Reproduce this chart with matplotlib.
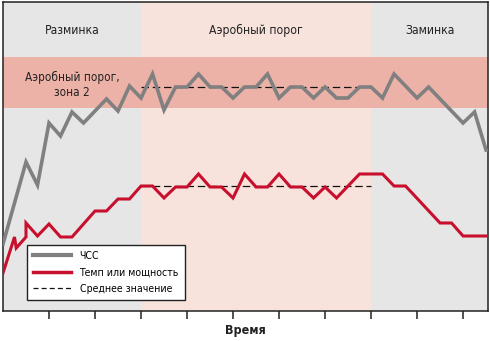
import matplotlib
matplotlib.use("Agg")
import matplotlib.pyplot as plt
from matplotlib.lines import Line2D

plt.rcParams['font.family'] = ['Liberation Sans Narrow', 'DejaVu Sans']
plt.rcParams['font.stretch'] = 'condensed'

# время в четвертях деления шкалы
hr_x = [0, 2, 3, 4, 5, 6, 7, 9, 10, 11, 12, 13, 14, 15, 16, 17, 18, 19, 20, 21, 22,
        23, 24, 25, 26, 27, 28, 29, 30, 31, 32, 33, 34, 36, 37, 40, 41, 42]
hr_y = [67, 149, 126, 188, 175, 199, 188, 212, 200, 225, 213, 237, 201, 224, 224, 237,
        224, 224, 213, 224, 224, 237, 213, 224, 224, 213, 224, 213, 213, 224, 224, 213,
        237, 213, 224, 188, 199, 161]

pace_x = [0, 1, 1.15, 2, 2, 3, 4, 5, 6, 8, 9, 10, 11, 12, 13, 14, 15, 16, 17, 18, 19,
          20, 21, 22, 23, 24, 25, 26, 27, 28, 29, 31, 33, 34, 35, 38, 39, 40, 42.2]
pace_y = [38, 74, 63, 74, 88, 75, 87, 74, 74, 100, 100, 112, 112, 125, 125, 113, 124,
          124, 137, 124, 124, 113, 137, 124, 124, 137, 124, 124, 113, 124, 113, 137, 137,
          125, 125, 88, 88, 75, 75]

hr_mean = 224
pace_mean = 125
phases = ["Разминка", "Аэробный порог", "Заминка"]
phase_bounds = [0, 12, 32, 42.17]
zone_low, zone_high = 203, 254

fig = plt.figure(figsize=(4.9, 3.41), dpi=100)
ax = fig.add_axes([3 / 490, 30 / 341, 485 / 490, 309 / 341])

phase_colors = ["#e6e6e6", "#f8e3dc", "#e6e6e6"]
for i, name in enumerate(phases):
    x0, x1 = phase_bounds[i], phase_bounds[i + 1]
    ax.axvspan(x0, x1, color=phase_colors[i], lw=0, zorder=0)
    ax.text((x0 + x1) / 2, 281, name, ha="center", va="center", fontsize=8.7, color="#222222")

ax.axhspan(zone_low, zone_high, color="#edb2a7", lw=0, zorder=1)
ax.text(6, 234, "Аэробный порог,", ha="center", va="center", fontsize=8.5, color="#222222")
ax.text(6, 219, "зона 2", ha="center", va="center", fontsize=8.5, color="#222222")

ax.plot([12, 32], [hr_mean, hr_mean], color="#111111", lw=0.9, ls=(0, (6, 3)), zorder=2)
ax.plot([12, 32], [pace_mean, pace_mean], color="#111111", lw=0.9, ls=(0, (6, 3)), zorder=2)
ax.plot(hr_x, hr_y, color="#808080", lw=2.6, zorder=3, solid_joinstyle="miter")
ax.plot(pace_x, pace_y, color="#c8102e", lw=2.2, zorder=3, solid_joinstyle="miter")

ax.set_xlim(0, 42.17)
ax.set_ylim(0, 309)
ax.set_xticks(range(4, 41, 4))
ax.set_xticklabels([])
ax.set_yticks([])
ax.tick_params(axis="x", direction="out", length=6, width=1.1, color="#222222")
for s in ax.spines.values():
    s.set_color("#222222")
    s.set_linewidth(1.1)
ax.set_xlabel("Время", fontsize=9, fontweight="bold", labelpad=0, color="#222222")

handles = [
    Line2D([], [], color="#808080", lw=3),
    Line2D([], [], color="#c8102e", lw=2.5),
    Line2D([], [], color="#111111", lw=0.9, ls=(0, (4, 2.5))),
]
labels = ["ЧСС", "Темп или мощность", "Среднее значение"]
leg = ax.legend(handles, labels, loc="lower left", bbox_to_anchor=(0.049, 0.036),
                borderaxespad=0, fontsize=7.6, fancybox=False, framealpha=1,
                edgecolor="#222222", handlelength=3.6, handletextpad=0.8,
                labelspacing=0.6, borderpad=0.6)
leg.get_frame().set_linewidth(1.0)
leg.set_zorder(5)

fig.savefig("out.png", dpi=100)
